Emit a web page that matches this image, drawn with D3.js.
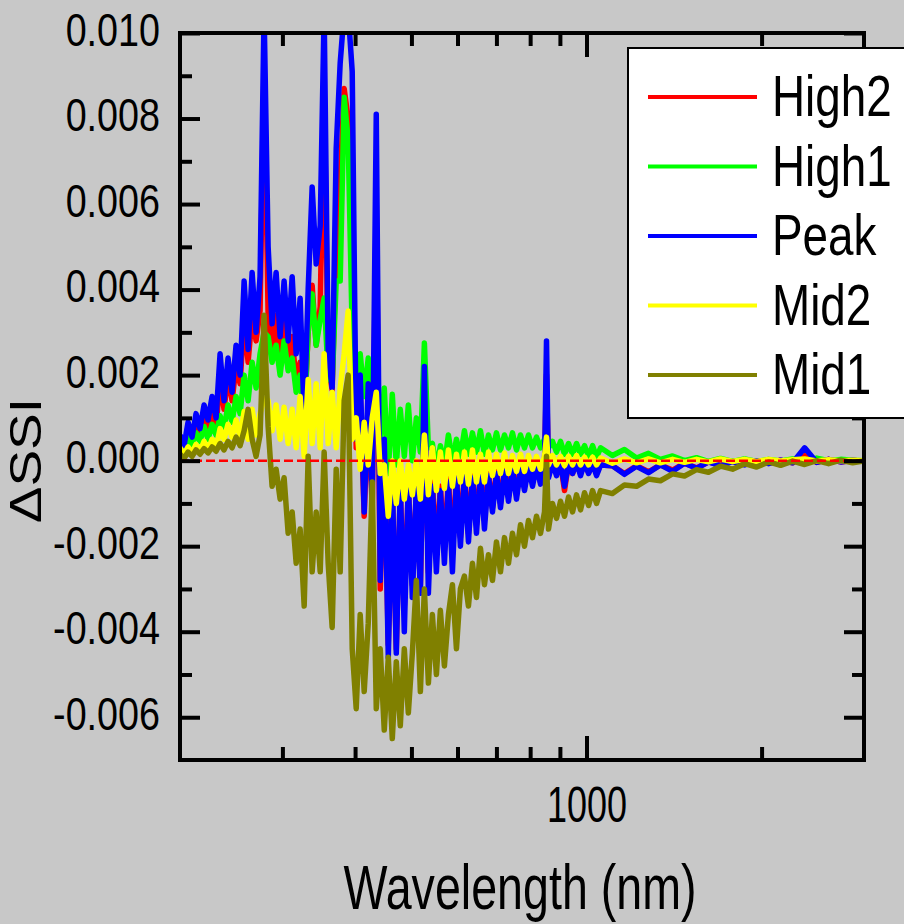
<!DOCTYPE html>
<html>
<head>
<meta charset="utf-8">
<script src="https://cdn.jsdelivr.net/npm/d3@7"></script>
<style>
  body { margin: 0; background: #c8c8c8; }
  svg { display: block; font-family: "Liberation Sans", Arial, sans-serif; }
</style>
</head>
<body>
<svg id="chart" width="904" height="924"></svg>
<script>
// wavelength grid (nm), shared by all five curves
const wavelength = [
  200, 203.2, 206.5, 209.8, 213.1, 216.5, 220.0, 223.5, 227.1, 230.7,
  234.4, 238.1, 241.9, 245.8, 249.7, 253.7, 257.8, 261.9, 266.1, 270.3,
  274.6, 279.0, 283.5, 288.0, 292.6, 297.3, 302.0, 306.9, 311.8, 316.8,
  321.8, 327.0, 332.2, 337.5, 342.9, 348.4, 353.9, 359.6, 365.3, 371.2,
  377.1, 383.1, 389.2, 395.5, 401.8, 408.2, 414.7, 421.4, 428.1, 435.0,
  441.9, 449.0, 456.2, 463.5, 470.9, 478.4, 486.1, 493.9, 501.8, 509.8,
  518.0, 526.3, 534.7, 543.2, 551.9, 560.7, 569.7, 578.8, 588.1, 597.5,
  607.0,
  616.7, 626.6, 636.6, 646.8, 657.1, 667.6, 678.3, 689.1, 700.1, 711.3,
  722.7, 734.2, 745.9, 757.9, 770.0, 782.3, 794.8, 807.5, 820.4, 833.5,
  846.8, 853.5, 860.3, 874.1, 888.0, 902.2, 916.6, 931.3, 946.2, 961.3,
  976.7, 992.3, 1008.2, 1024.3, 1040.6, 1057.3,
  1108, 1162, 1219, 1278, 1340, 1406, 1474, 1546, 1621, 1700,
  1783, 1870, 1961, 2056, 2156, 2262, 2372, 2487, 2608, 2735,
  2869, 3000
];

const high2 = [
  0.00045, 0.00025, 0.00075, 0.00045, 0.0009, 0.0006, 0.00105, 0.00075, 0.00115, 0.0008,
  0.0019, 0.0012, 0.002, 0.0014, 0.0022, 0.0018, 0.0033, 0.0023, 0.0034, 0.0028,
  0.0035, 0.0093, 0.0034, 0.0025, 0.0034, 0.0024, 0.0033, 0.0023, 0.0029, 0.0018,
  0.0023, 0.0009, 0.003, 0.0041, 0.0027, 0.0036, 0.0087, 0.0022, 0.00165, 0.005,
  0.0065, 0.0087, 0.008, 0.006, 0.0003, 0.0016, -0.0013, 0.0014, -0.0011, 0.006,
  -0.003, 0.0003, -0.0043, -0.0006, -0.0044, -0.0007, -0.0034, -0.0006, -0.0029, -0.0007,
  -0.0029, 0.0016, -0.0026, -0.0005, -0.0022, -0.0006, -0.0021, -0.0004, -0.0022, -0.0003,
  -0.0018,
  -0.0003, -0.0017, -0.00035, -0.0015, -0.00025, -0.0014, -0.0003, -0.0011, -0.00025, -0.001,
  -0.0002, -0.00085, -0.00015, -0.0008, -0.00015, -0.0006, -0.0001, -0.0005, -0.0001, -0.0005,
  -0.0001, 0.002, -0.00035, -0.00005, -0.0003, -0.00005, -0.0007, -0.00005, -0.0003, -0.00005,
  -0.0003, -0.00005, -0.00028, -0.00005, -0.0003, -0.0001,
  -0.00012, -0.0003, -0.00012, -0.00026, -0.0001, -0.00022, -0.00006, -0.00017, -0.00003, -0.00011,
  -0.00002, -0.00008, 0, -0.00006, 0.00001, -0.00005, 0.00012, -0.00004, 0.00003, -0.00003,
  0.00001, -0.00002
];

const high1 = [
  0.0004, 0.0002, 0.00055, 0.00035, 0.00065, 0.00045, 0.0008, 0.0005, 0.00085, 0.0006,
  0.00105, 0.00075, 0.0013, 0.0009, 0.0015, 0.0011, 0.002, 0.0014, 0.0023, 0.0017,
  0.0025, 0.003, 0.0029, 0.0023, 0.0027, 0.002, 0.0028, 0.0021, 0.0024, 0.0016,
  0.002, 0.001, 0.003, 0.0039, 0.0027, 0.0033, 0.0038, 0.002, 0.0018, 0.0042,
  0.0042, 0.0085, 0.0075, 0.003, 0.0015, 0.0025, 0.0015, 0.0024, 0.0012, 0.0025,
  0.0004, 0.0017, -0.0003, 0.00155, -0.0001, 0.0012, 0.0001, 0.0013, 0, 0.001,
  0.0002, 0.00275, 0.0003, 0.0004, -0.0002, 0.00035, -0.0001, 0.0006, 0, 0.0005,
  0.0001,
  0.0007, 0.00015, 0.00065, 0.0002, 0.0007, 0.00015, 0.0006, 0.00025, 0.00065, 0.00025,
  0.0006, 0.0003, 0.00065, 0.00025, 0.0006, 0.0003, 0.0006, 0.0003, 0.00055, 0.0003,
  0.0005, 0.0006, 0.0003, 0.00045, 0.0002, 0.00045, 0.00015, 0.0004, 0.00015, 0.0004,
  0.00015, 0.00035, 0.0001, 0.00035, 0.00008, 0.0003,
  0.00012, 0.00026, 0.00006, 0.00017, 0.00003, 0.00011, 0, 0.00007, -0.00002, 0.00005,
  -0.00002, 0.00004, -0.00002, 0.00003, -0.00001, 0.00004, 0, 0.00006, 0, 0.00003,
  0.00001, 0
];

const peak = [
  0.0006, 0.00035, 0.0009, 0.00055, 0.0011, 0.00075, 0.0013, 0.00095, 0.0015, 0.001,
  0.0025, 0.0014, 0.0024, 0.0016, 0.0027, 0.002, 0.0042, 0.0026, 0.0044, 0.003,
  0.0043, 0.0105, 0.005, 0.0032, 0.0044, 0.0029, 0.0042, 0.0028, 0.0043, 0.0025,
  0.0038, 0.001, 0.004, 0.0064, 0.0046, 0.0055, 0.0105, 0.0025, 0.0017, 0.0073,
  0.0093, 0.0105, 0.0105, 0.0091, 0.0005, 0.002, -0.0012, 0.0018, -0.001, 0.0081,
  -0.0028, 0.0005, -0.0046, -0.0005, -0.0045, -0.0006, -0.004, -0.0005, -0.0032, -0.0006,
  -0.0031, 0.0022, -0.0031, -0.0006, -0.0026, -0.0007, -0.0024, -0.0005, -0.0026, -0.0004,
  -0.002,
  -0.00035, -0.0019, -0.0004, -0.0017, -0.0003, -0.0016, -0.00035, -0.0012, -0.0003, -0.0011,
  -0.00025, -0.00095, -0.0002, -0.0009, -0.0002, -0.0007, -0.00015, -0.0006, -0.00012, -0.00055,
  -0.00015, 0.0028, -0.0004, -0.00005, -0.00035, -0.00005, -0.0006, -0.00008, -0.0003, -0.00005,
  -0.00035, -0.00005, -0.0003, -0.00008, -0.00035, -0.0001,
  -0.00012, -0.00032, -0.00013, -0.00028, -0.0001, -0.00025, -0.00006, -0.00018, -0.00003, -0.00012,
  -0.00002, -0.0001, 0, -0.00007, 0.00001, -0.00005, 0.0003, -0.00004, 0.00003, -0.00003,
  0.00001, -0.00002
];

const mid2 = [
  0.0003, 0.00015, 0.00032, 0.00018, 0.00038, 0.00022, 0.00045, 0.00025, 0.0005, 0.0003,
  0.00075, 0.0005, 0.00085, 0.00055, 0.00095, 0.00055, 0.00115, 0.0005, 0.0012, 0.0006,
  0.0011, 0.00145, 0.0014, 0.0007, 0.0013, 0.0005, 0.00125, 0.0004, 0.0012, 0.0003,
  0.0015, 0.0001, 0.0019, 0.0004, 0.0018, 0.0003, 0.0025, 0.0004, 0.0016, 0.0003,
  0.0017, 0.0025, 0.0035, 0.0005, 0.001, -0.0002, 0.0009, -0.0001, 0.001, 0.0016,
  -0.0003, -0.0001, -0.0013, 0, -0.001, 0, -0.0009, -0.0001, -0.0008, 0,
  -0.0009, 0.0006, -0.0008, 0.0003, -0.0007, 0.0002, -0.00065, 0.00025, -0.0006, 0.00015,
  -0.0005,
  0.0002, -0.00055, 0.00025, -0.0005, 0.00015, -0.0005, 0.0002, -0.00035, 0.00015, -0.0003,
  0.00018, -0.0003, 0.00012, -0.00025, 0.00015, -0.00025, 0.00012, -0.0002, 0.0001, -0.0002,
  0.0001, 0.00055, -0.0001, 0.00012, -0.0001, 0.0001, -0.00012, 0.0001, -0.0001, 0.00012,
  -0.0001, 0.00008, -0.0001, 0.00008, -0.0001, 0.00006,
  -0.00006, 0.00004, -0.00005, 0.00004, -0.00005, 0.00003, -0.00004, 0.00003, -0.00003, 0.00004,
  -0.00002, 0.00003, -0.00002, 0.00003, -0.00001, 0.00002, 0.00004, -0.00001, 0.00002, 0,
  0.00001, 0
];

const mid1 = [
  0.00015, 0.00005, 0.0002, 0.0001, 0.00025, 0.00015, 0.00028, 0.00018, 0.00032, 0.00022,
  0.0004, 0.00025, 0.00045, 0.0003, 0.00055, 0.00035, 0.0007, 0.0012, 0.0005, 0.0001,
  0.0006, 0.0034, 0.0008, -0.0006, -0.0002, -0.0009, -0.0004, -0.0017, -0.0012, -0.0024,
  -0.0016, -0.0034, 0.0001, -0.0026, -0.0012, -0.0026, 0.0002, -0.0024, -0.0039, -0.0002,
  -0.0026, 0.0014, 0.002, -0.0044, -0.0058, -0.0036, -0.0054, -0.0038, -0.0005, -0.0058,
  -0.0044, -0.0063, -0.0046, -0.0065, -0.0047, -0.0062, -0.0044, -0.0059, -0.0045, -0.0028,
  -0.0054, -0.003, -0.0052, -0.0036, -0.005, -0.0035, -0.0048, -0.0036, -0.0029, -0.0044,
  -0.003,
  -0.0027, -0.0034, -0.0024, -0.0032, -0.00205, -0.0029, -0.0022, -0.0028, -0.0019, -0.0026,
  -0.0018, -0.0024, -0.0017, -0.0022, -0.0015, -0.002, -0.0014, -0.0018, -0.0013, -0.0017,
  -0.0012, 0.0001, -0.0016, -0.001, -0.00135, -0.00095, -0.0013, -0.00085, -0.0012, -0.0008,
  -0.00115, -0.00075, -0.00105, -0.0007, -0.001, -0.0007,
  -0.00077, -0.00057, -0.0006, -0.00043, -0.00047, -0.00031, -0.00036, -0.00021, -0.00027, -0.00013,
  -0.0002, -0.00007, -0.00015, -0.00003, -0.00011, -0.00001, -0.00009, 0, -0.00007, 0.00001,
  -0.00005, -0.00001
];

const seriesNames = ["High2", "High1", "Peak", "Mid2", "Mid1"];
const seriesValues = [high2, high1, peak, mid2, mid1];
const seriesColors = ["#ff0000", "#00ff00", "#0000ff", "#ffff00", "#808000"];

const xMajorTicks = [1000];
const xMinorTicks = [300, 400, 500, 600, 700, 800, 900, 2000];
const yMajorTicks = [-0.006, -0.004, -0.002, 0, 0.002, 0.004, 0.006, 0.008, 0.010];
const yMinorTicks = [-0.005, -0.003, -0.001, 0.001, 0.003, 0.005, 0.007, 0.009];

const W = 904, H = 924;
const margin = { top: 33, right: 40, bottom: 164, left: 180 };

const svg = d3.select("#chart");
svg.append("rect").attr("width", W).attr("height", H).attr("fill", "#c8c8c8");

const x = d3.scaleLog().domain([200, 3000]).range([margin.left, W - margin.right]);
const y = d3.scaleLinear().domain([-0.007, 0.010]).range([H - margin.bottom, margin.top]);

svg.append("clipPath").attr("id", "plotclip")
  .append("rect")
  .attr("x", margin.left).attr("y", margin.top)
  .attr("width", W - margin.left - margin.right)
  .attr("height", H - margin.top - margin.bottom);

const plot = svg.append("g").attr("clip-path", "url(#plotclip)");

const line = d3.line()
  .x(d => x(d[0]))
  .y(d => y(d[1]));

seriesValues.forEach((vals, i) => {
  plot.append("path")
    .datum(wavelength.map((w, j) => [w, vals[j]]))
    .attr("fill", "none")
    .attr("stroke", seriesColors[i])
    .attr("stroke-width", 5.5)
    .attr("stroke-linejoin", "round")
    .attr("d", line);
});

// zero reference
plot.append("line")
  .attr("x1", x(200)).attr("x2", x(3000))
  .attr("y1", y(0)).attr("y2", y(0))
  .attr("stroke", "#ff0000")
  .attr("stroke-width", 2.5)
  .attr("stroke-dasharray", "9,4");

// axes (ticks point inward on all sides)
function styleTicks(g) {
  g.select(".domain").remove();
  g.selectAll(".tick line").attr("stroke", "#000").attr("stroke-width", 4);
}

const yBottom = H - margin.bottom, xRight = W - margin.right;

svg.append("g").attr("transform", `translate(0,${yBottom})`)
  .call(d3.axisBottom(x).tickValues(xMajorTicks).tickSizeInner(-24).tickSizeOuter(0)
    .tickFormat(d3.format("d")))
  .call(styleTicks)
  .call(g => g.selectAll("text")
    .attr("y", 62).attr("dy", null)
    .attr("font-size", 50).attr("fill", "#000")
    .attr("transform", "scale(0.72,1)"));
svg.append("g").attr("transform", `translate(0,${yBottom})`)
  .call(d3.axisBottom(x).tickValues(xMinorTicks).tickSizeInner(-13).tickSizeOuter(0).tickFormat(""))
  .call(styleTicks);
svg.append("g").attr("transform", `translate(0,${margin.top})`)
  .call(d3.axisTop(x).tickValues(xMajorTicks).tickSizeInner(-24).tickSizeOuter(0).tickFormat(""))
  .call(styleTicks);
svg.append("g").attr("transform", `translate(0,${margin.top})`)
  .call(d3.axisTop(x).tickValues(xMinorTicks).tickSizeInner(-13).tickSizeOuter(0).tickFormat(""))
  .call(styleTicks);

const ySx = 0.82;
svg.append("g").attr("transform", `translate(${margin.left},0)`)
  .call(d3.axisLeft(y).tickValues(yMajorTicks).tickSizeInner(-20).tickSizeOuter(0)
    .tickFormat(d => d.toFixed(3)))
  .call(styleTicks)
  .call(g => g.selectAll("text")
    .attr("x", -20 / ySx).attr("dy", 12)
    .attr("font-size", 46).attr("fill", "#000")
    .attr("transform", `scale(${ySx},1)`));
svg.append("g").attr("transform", `translate(${margin.left},0)`)
  .call(d3.axisLeft(y).tickValues(yMinorTicks).tickSizeInner(-12).tickSizeOuter(0).tickFormat(""))
  .call(styleTicks);
svg.append("g").attr("transform", `translate(${xRight},0)`)
  .call(d3.axisRight(y).tickValues(yMajorTicks).tickSizeInner(-20).tickSizeOuter(0).tickFormat(""))
  .call(styleTicks);
svg.append("g").attr("transform", `translate(${xRight},0)`)
  .call(d3.axisRight(y).tickValues(yMinorTicks).tickSizeInner(-12).tickSizeOuter(0).tickFormat(""))
  .call(styleTicks);

// frame
svg.append("rect")
  .attr("x", margin.left).attr("y", margin.top)
  .attr("width", W - margin.left - margin.right)
  .attr("height", H - margin.top - margin.bottom)
  .attr("fill", "none").attr("stroke", "#000").attr("stroke-width", 4);

// axis titles
svg.append("text")
  .attr("transform", `translate(${(margin.left + xRight) / 2 - 2},909) scale(0.74,1)`)
  .attr("text-anchor", "middle")
  .attr("font-size", 63)
  .text("Wavelength (nm)");

svg.append("text")
  .attr("transform", `translate(41,${y(0)}) scale(0.8,1) rotate(-90)`)
  .attr("text-anchor", "middle")
  .attr("font-size", 55)
  .text("\u0394SSI");

// legend
const legend = svg.append("g");
legend.append("rect")
  .attr("x", 628).attr("y", 48).attr("width", 300).attr("height", 370)
  .attr("fill", "#fff").attr("stroke", "#000").attr("stroke-width", 2);

seriesNames.forEach((name, i) => {
  const ly = 97 + i * 69.5;
  legend.append("line")
    .attr("x1", 648).attr("x2", 757).attr("y1", ly).attr("y2", ly)
    .attr("stroke", seriesColors[i]).attr("stroke-width", 4);
  legend.append("text")
    .attr("transform", `translate(772,${ly + 19}) scale(0.79,1)`)
    .attr("font-size", 58)
    .text(name);
});
</script>
</body>
</html>
